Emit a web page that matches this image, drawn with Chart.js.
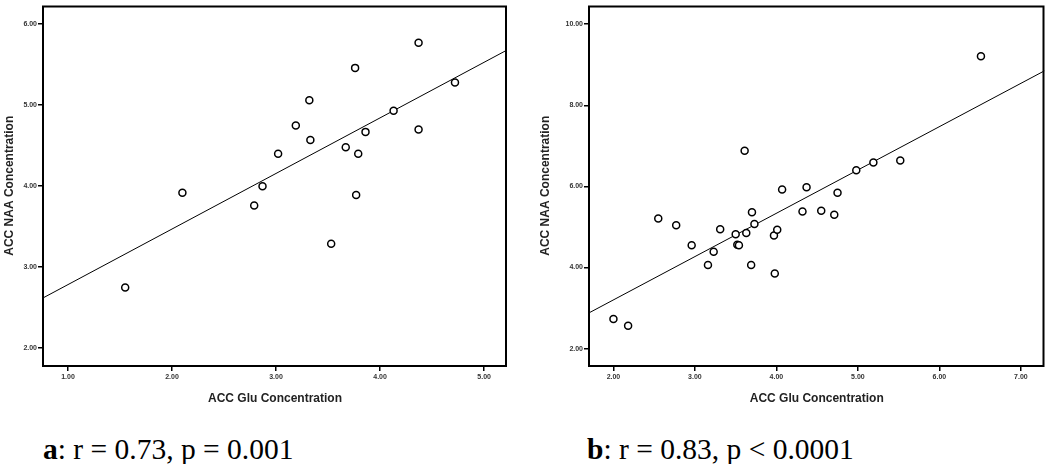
<!DOCTYPE html>
<html>
<head>
<meta charset="utf-8">
<script src="https://cdn.jsdelivr.net/npm/chart.js@4"></script>
<style>
  body { margin: 0; background: #fff; width: 1050px; height: 464px; position: relative; overflow: hidden; }
  canvas { position: absolute; top: 0; }
  #chartA { left: 0; }
  #chartB { left: 530px; }
  .caption { position: absolute; top: 435px; font-family: "Liberation Serif", "Times New Roman", serif; font-size: 29.5px; line-height: 29.5px; color: #000; white-space: nowrap; }
</style>
</head>
<body>
<canvas id="chartA" width="525" height="410"></canvas>
<canvas id="chartB" width="520" height="410"></canvas>
<div class="caption" style="left:43px"><b>a</b>: r = 0.73, p = 0.001</div>
<div class="caption" style="left:587px"><b>b</b>: r = 0.83, p &lt; 0.0001</div>
<script>
// panel a
const gluA = [1.55, 2.10, 2.79, 2.87, 3.02, 3.19, 3.32, 3.33, 3.53, 3.67, 3.76, 3.77, 3.79, 3.86, 4.13, 4.37, 4.37, 4.72];
const naaA = [2.75, 3.92, 3.76, 4.00, 4.40, 4.75, 5.06, 4.57, 3.29, 4.48, 5.46, 3.89, 4.40, 4.67, 4.93, 5.77, 4.70, 5.28];
const fitAx = [0.76, 5.22];
const fitAy = [2.62, 5.68];
const xTicksA = [1, 2, 3, 4, 5];
const yTicksA = [2, 3, 4, 5, 6];

// panel b
const gluB = [2.00, 2.18, 2.55, 2.77, 2.96, 3.16, 3.23, 3.31, 3.50, 3.52, 3.54, 3.61, 3.63, 3.70, 3.69, 3.73, 3.97, 4.01, 3.98, 4.07, 4.32, 4.37, 4.55, 4.71, 4.75, 4.98, 5.19, 5.52, 6.51];
const naaB = [2.73, 2.56, 5.21, 5.04, 4.55, 4.06, 4.39, 4.94, 4.82, 4.56, 4.55, 6.88, 4.85, 5.36, 4.06, 5.07, 4.79, 4.93, 3.85, 5.92, 5.38, 5.98, 5.40, 5.30, 5.84, 6.40, 6.59, 6.64, 9.21];
const fitBx = [1.70, 7.29];
const fitBy = [2.88, 8.85];
const xTicksB = [2, 3, 4, 5, 6, 7];
const yTicksB = [2, 4, 6, 8, 10];

const xTitle = 'ACC Glu Concentration';
const yTitle = 'ACC NAA Concentration';

// box around the plot area
const framePlugin = {
    id: 'frame',
    afterDraw(chart) {
        const { ctx, chartArea: a } = chart;
        ctx.save();
        ctx.strokeStyle = '#000';
        ctx.lineWidth = 2;
        ctx.strokeRect(a.left, a.top + 1, a.right - a.left - 1, a.bottom - a.top - 1);
        ctx.restore();
    }
};

function makeChart(id, xs, ys, fx, fy, xRange, yRange, xTicks, yTicks, yAxisWidth, titlePad, padRight) {
    const tickFont = { family: '"Liberation Sans", Arial, sans-serif', size: 7, weight: 'bold' };
    const titleFont = { family: '"Liberation Sans", Arial, sans-serif', size: 12, weight: 'bold' };
    const grid = { display: true, drawOnChartArea: false, drawTicks: true, tickLength: 5, color: '#000', lineWidth: 1.5 };
    return new Chart(document.getElementById(id).getContext('2d'), {
        type: 'scatter',
        data: {
            datasets: [{
                data: xs.map((x, i) => ({ x: x, y: ys[i] })),
                pointStyle: 'circle',
                pointRadius: 3.5,
                borderWidth: 1.5,
                borderColor: '#000',
                backgroundColor: '#fff'
            }, {
                type: 'line',
                data: fx.map((x, i) => ({ x: x, y: fy[i] })),
                borderColor: '#000',
                borderWidth: 1,
                pointRadius: 0,
                fill: false
            }]
        },
        options: {
            responsive: false,
            animation: false,
            devicePixelRatio: 1,
            layout: { padding: { top: 0, right: padRight, left: 0, bottom: 0 } },
            plugins: { legend: { display: false }, tooltip: { enabled: false } },
            scales: {
                x: {
                    type: 'linear',
                    min: xRange[0],
                    max: xRange[1],
                    border: { display: false },
                    grid: grid,
                    ticks: { font: tickFont, color: '#333', padding: 2, callback: v => v.toFixed(2) },
                    title: { display: true, text: xTitle, font: titleFont, color: '#222', padding: { top: 0, bottom: 4 } },
                    afterBuildTicks: s => { s.ticks = xTicks.map(v => ({ value: v })); },
                    afterFit: s => { s.height = 44; s.paddingLeft = 0; s.paddingRight = 0; }
                },
                y: {
                    type: 'linear',
                    min: yRange[0],
                    max: yRange[1],
                    border: { display: false },
                    grid: grid,
                    ticks: { font: tickFont, color: '#333', padding: 1, callback: v => v.toFixed(2) },
                    title: { display: true, text: yTitle, font: titleFont, color: '#222', padding: { top: titlePad, bottom: 0 } },
                    afterBuildTicks: s => { s.ticks = yTicks.map(v => ({ value: v })); },
                    afterFit: s => { s.width = yAxisWidth; s.paddingTop = 0; s.paddingBottom = 0; }
                }
            }
        },
        plugins: [framePlugin]
    });
}

makeChart('chartA', gluA, naaA, fitAx, fitAy, [0.76, 5.22], [1.78, 6.23], xTicksA, yTicksA, 43, 2, 18);
makeChart('chartB', gluB, naaB, fitBx, fitBy, [1.70, 7.29], [1.57, 10.46], xTicksB, yTicksB, 59, 8, 1);
</script>
</body>
</html>
